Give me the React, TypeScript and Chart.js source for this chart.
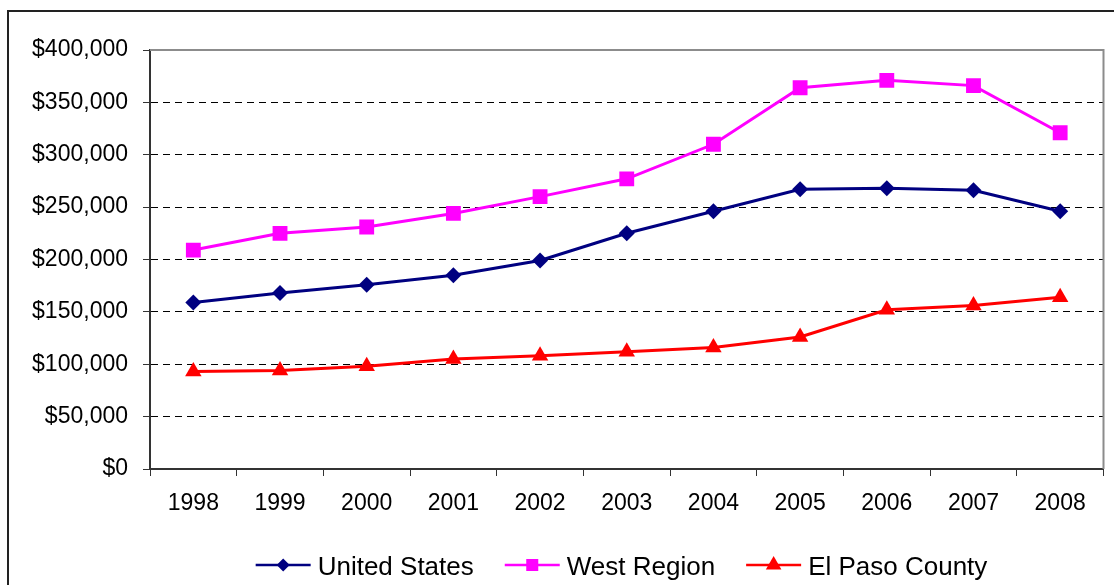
import React, { useEffect, useRef } from 'react';
import { Chart, registerables } from 'chart.js';

Chart.register(...registerables);

const years = ['1998', '1999', '2000', '2001', '2002', '2003', '2004', '2005', '2006', '2007', '2008'];
const unitedStates = [159000, 168000, 176000, 185000, 199000, 225000, 246000, 267000, 268000, 266000, 246000];
const westRegion = [209000, 225000, 231000, 244000, 260000, 277000, 310000, 364000, 371000, 366000, 321000];
const elPasoCounty = [93000, 94000, 98000, 105000, 108000, 112000, 116000, 126000, 152000, 156000, 164000];
const seriesNames = ['United States', 'West Region', 'El Paso County'];
const yMin = 0;
const yMax = 400000;
const yStep = 50000;

const FONT = '"Liberation Sans", Arial, sans-serif';

function drawMarker(ctx: CanvasRenderingContext2D, style: string, x: number, y: number, r: number, color: string) {
  ctx.fillStyle = color;
  ctx.beginPath();
  if (style === 'rectRot') {
    ctx.moveTo(x - r, y);
    ctx.lineTo(x, y - r);
    ctx.lineTo(x + r, y);
    ctx.lineTo(x, y + r);
  } else if (style === 'rect') {
    const s = r * Math.SQRT1_2;
    ctx.rect(x - s, y - s, 2 * s, 2 * s);
  } else {
    const w = r * Math.sqrt(3) / 2;
    ctx.moveTo(x, y - r);
    ctx.lineTo(x + w, y + r / 2);
    ctx.lineTo(x - w, y + r / 2);
  }
  ctx.closePath();
  ctx.fill();
}

const frameAndLegend = {
  id: 'frameAndLegend',
  afterDraw(chart: any) {
    const { ctx, chartArea } = chart;
    ctx.save();
    ctx.strokeStyle = '#8c8c8c';
    ctx.lineWidth = 2;
    ctx.beginPath();
    ctx.moveTo(chartArea.left, chartArea.top);
    ctx.lineTo(chartArea.right, chartArea.top);
    ctx.lineTo(chartArea.right, chartArea.bottom);
    ctx.stroke();

    ctx.font = '26px ' + FONT;
    const lineLen = 55;
    const textGap = 7;
    const itemGap = 31;
    const items = chart.data.datasets.map((ds: any) => ({ ds, w: ctx.measureText(ds.label).width }));
    const total = items.reduce((s: number, it: any) => s + lineLen + textGap + it.w, 0) + itemGap * (items.length - 1);
    let x = 621.5 - total / 2;
    const y = 565;
    items.forEach((it: any) => {
      const ds = it.ds;
      ctx.strokeStyle = ds.borderColor;
      ctx.lineWidth = 2.5;
      ctx.beginPath();
      ctx.moveTo(x, y);
      ctx.lineTo(x + lineLen, y);
      ctx.stroke();
      const lr = ds.pointStyle === 'rect' ? 8.5 : ds.pointStyle === 'triangle' ? 9 : 6.5;
      drawMarker(ctx, ds.pointStyle, x + lineLen / 2, y, lr, ds.borderColor);
      ctx.fillStyle = '#000';
      ctx.textAlign = 'left';
      ctx.textBaseline = 'alphabetic';
      ctx.fillText(ds.label, x + lineLen + textGap, y + 10);
      x += lineLen + textGap + it.w + itemGap;
    });
    ctx.restore();
  },
};

export default function App() {
  const canvasRef = useRef<HTMLCanvasElement | null>(null);

  useEffect(() => {
    if (!canvasRef.current) return;
    const chart = new Chart(canvasRef.current, {
      type: 'line',
      data: {
        labels: years,
        datasets: [
          {
            label: seriesNames[0],
            data: unitedStates,
            borderColor: '#000080',
            backgroundColor: '#000080',
            borderWidth: 3,
            pointStyle: 'rectRot',
            pointRadius: 8,
            pointHoverRadius: 8,
            pointBorderWidth: 0,
            tension: 0,
          },
          {
            label: seriesNames[1],
            data: westRegion,
            borderColor: '#ff00ff',
            backgroundColor: '#ff00ff',
            borderWidth: 3,
            pointStyle: 'rect',
            pointRadius: 10.5,
            pointHoverRadius: 10.5,
            pointBorderWidth: 0,
            tension: 0,
          },
          {
            label: seriesNames[2],
            data: elPasoCounty,
            borderColor: '#ff0000',
            backgroundColor: '#ff0000',
            borderWidth: 3,
            pointStyle: 'triangle',
            pointRadius: 9.5,
            pointHoverRadius: 9.5,
            pointBorderWidth: 0,
            tension: 0,
          },
        ],
      },
      options: {
        animation: false,
        responsive: false,
        maintainAspectRatio: false,
        layout: { padding: { left: 0, top: 50, right: 9, bottom: 0 } },
        plugins: {
          legend: { display: false },
          tooltip: { enabled: false },
        },
        scales: {
          x: {
            offset: true,
            grid: {
              offset: true,
              drawOnChartArea: false,
              drawTicks: true,
              tickLength: 7,
              tickColor: '#333',
              tickWidth: 1,
            },
            border: { display: true, color: '#333', width: 2 },
            ticks: {
              color: '#000',
              font: { family: FONT, size: 23 },
              padding: 14,
              maxRotation: 0,
              autoSkip: false,
            },
            afterFit: (scale: any) => {
              scale.height = 116;
            },
          },
          y: {
            min: yMin,
            max: yMax,
            grid: {
              color: (c: any) => (c.tick && (c.tick.value === yMin || c.tick.value === yMax) ? 'rgba(0,0,0,0)' : '#000'),
              lineWidth: 1,
              drawTicks: true,
              tickLength: 7,
              tickColor: '#333',
              tickWidth: 1,
            },
            border: { display: true, color: '#333', width: 2, dash: [7, 5] },
            ticks: {
              stepSize: yStep,
              color: '#000',
              font: { family: FONT, size: 23 },
              padding: 15,
              callback: (v: any) => '$' + Number(v).toLocaleString('en-US'),
            },
            afterFit: (scale: any) => {
              scale.width = 150;
            },
          },
        },
      },
      plugins: [frameAndLegend],
    });
    return () => chart.destroy();
  }, []);

  return (
    <div style={{ position: 'fixed', left: 0, top: 0, width: 1114, height: 585, background: '#fff', overflow: 'hidden' }}>
      <div
        style={{
          position: 'absolute',
          left: 7,
          top: 10,
          width: 1130,
          height: 600,
          border: '2px solid #222',
          boxSizing: 'border-box',
        }}
      />
      <canvas
        ref={canvasRef}
        width={1114}
        height={585}
        style={{ position: 'absolute', left: 0, top: 0, width: 1114, height: 585 }}
      />
    </div>
  );
}
